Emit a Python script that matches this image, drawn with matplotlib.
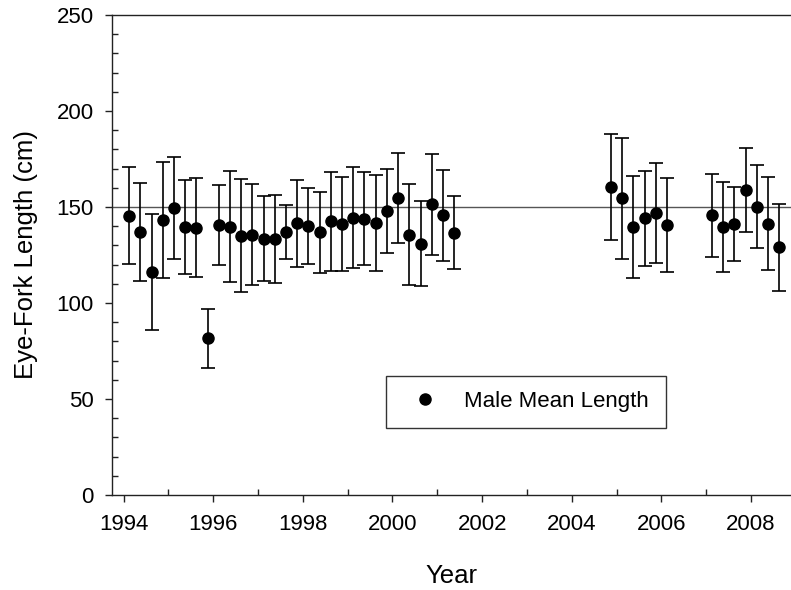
import matplotlib
matplotlib.use('Agg')
import matplotlib.pyplot as plt
from matplotlib.lines import Line2D
from matplotlib.ticker import MultipleLocator

plt.rcParams['font.family'] = ['Liberation Sans', 'DejaVu Sans']

# quarterly mean eye-fork length of males, with +/- SD
years = [1994.125, 1994.375, 1994.625, 1994.875, 1995.125, 1995.375, 1995.625, 1995.875,
         1996.125, 1996.375, 1996.625, 1996.875, 1997.125, 1997.375, 1997.625, 1997.875,
         1998.125, 1998.375, 1998.625, 1998.875, 1999.125, 1999.375, 1999.625, 1999.875,
         2000.125, 2000.375, 2000.625, 2000.875, 2001.125, 2001.375,
         2004.875, 2005.125, 2005.375, 2005.625, 2005.875, 2006.125,
         2007.125, 2007.375, 2007.625, 2007.875, 2008.125, 2008.375, 2008.625]
mean_len = [145.5, 136.8, 116.0, 143.2, 149.5, 139.4, 139.2, 81.6,
            140.8, 139.8, 135.1, 135.6, 133.5, 133.5, 136.8, 141.5,
            140.1, 136.8, 142.5, 141.3, 144.3, 143.9, 141.8, 147.9,
            154.7, 135.6, 130.9, 151.4, 145.6, 136.6,
            160.4, 154.5, 139.4, 144.1, 146.7, 140.5,
            145.6, 139.6, 141.0, 158.9, 150.2, 141.3, 129.0]
sd_len = [25.2, 25.5, 30.1, 30.3, 26.5, 24.5, 25.7, 15.5,
          20.9, 29.1, 29.4, 26.2, 22.3, 22.9, 14.1, 22.7,
          20.0, 21.2, 25.9, 24.5, 26.3, 24.1, 24.9, 22.1,
          23.5, 26.2, 22.3, 26.3, 23.6, 18.9,
          27.4, 31.5, 26.6, 24.8, 26.1, 24.6,
          21.8, 23.2, 19.2, 21.8, 21.7, 24.3, 22.7]
ref_level = 150

fig = plt.figure(figsize=(7.91, 5.90), dpi=100)
ax = fig.add_axes([0.142, 0.161, 0.858, 0.8136])

ax.axhline(ref_level, color='#555555', lw=1.0, zorder=1)
ax.errorbar(years, mean_len, yerr=sd_len, fmt='o', color='black', ecolor='black',
            markersize=8, elinewidth=1.2, capsize=5, capthick=1.2, zorder=3)

ax.set_xlim(1993.75, 2008.89)
ax.set_ylim(0, 250)
ax.xaxis.set_major_locator(MultipleLocator(2))
ax.xaxis.set_minor_locator(MultipleLocator(1))
ax.yaxis.set_major_locator(MultipleLocator(50))
ax.yaxis.set_minor_locator(MultipleLocator(10))
ax.tick_params(which='major', direction='out', length=5, width=1, labelsize=16,
               colors='#222222', labelcolor='black', pad=8.5)
ax.tick_params(which='minor', direction='in', length=4, width=1, colors='#222222')

for s in ['left', 'bottom', 'top']:
    ax.spines[s].set_color('#222222')
    ax.spines[s].set_linewidth(1.0)
ax.spines['right'].set_visible(False)

ax.set_xlabel('Year', fontsize=18.5, labelpad=21)
ax.set_ylabel('Eye-Fork Length (cm)', fontsize=18.5, labelpad=13)

dot = Line2D([], [], ls='none', marker='o', color='black', markersize=8)
leg = ax.legend([dot], ['Male Mean Length'], loc='lower left',
                bbox_to_anchor=(0.403, 0.140, 0.413, 0.111),
                mode='expand', borderaxespad=0, fontsize=16, frameon=True,
                fancybox=False, borderpad=0.7, handlelength=2.1, handletextpad=0.7)
leg.get_frame().set_edgecolor('black')
leg.get_frame().set_linewidth(1.0)

fig.savefig('out.png', dpi=100)
